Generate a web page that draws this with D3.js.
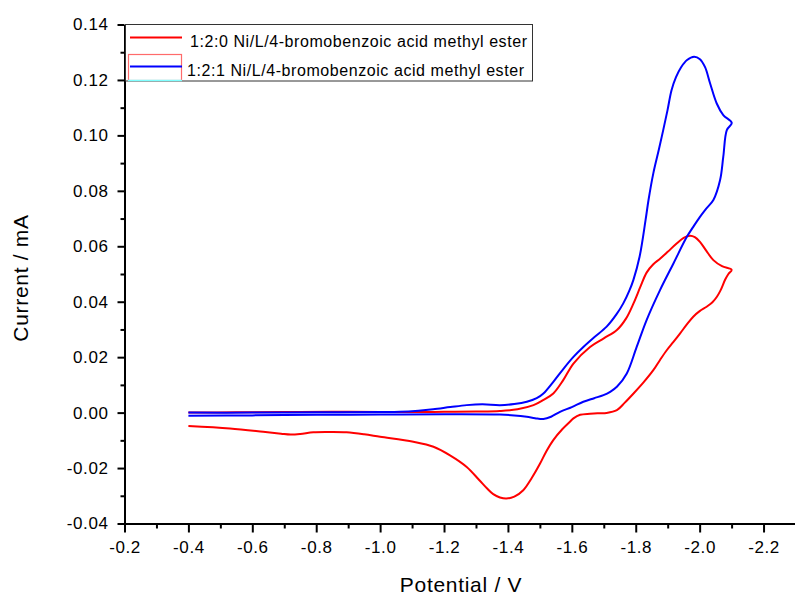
<!DOCTYPE html>
<html>
<head>
<meta charset="utf-8">
<script src="https://cdn.jsdelivr.net/npm/d3@7"></script>
<style>
  html, body { margin: 0; padding: 0; background: #fff; }
  svg { display: block; }
  text { font-family: "Liberation Sans", Arial, sans-serif; fill: #000; }
</style>
</head>
<body>
<svg id="chart" width="795" height="599"></svg>
<script>
// ---- Data ----
const seriesNames = [
  "1:2:0 Ni/L/4-bromobenzoic acid methyl ester",
  "1:2:1 Ni/L/4-bromobenzoic acid methyl ester"
];
const seriesColors = ["#ff0000", "#0000ff"];

// Red: 1:2:0 (forward sweep -0.4 -> -2.1 then back)
const redPotential = [
  -0.40, -0.55, -0.70, -0.85, -1.00, -1.10, -1.20, -1.30, -1.375, -1.43,
  -1.48, -1.51, -1.542, -1.573, -1.605, -1.657, -1.70, -1.741, -1.77, -1.793,
  -1.815, -1.834, -1.855, -1.876, -1.90, -1.928, -1.95, -1.97, -1.985, -2.001,
  -2.02, -2.043, -2.07, -2.10,
  -2.09, -2.08, -2.065, -2.054, -2.04, -2.022, -2.00, -1.98, -1.96, -1.939,
  -1.918, -1.897, -1.876, -1.855, -1.825, -1.793, -1.765, -1.741, -1.709, -1.68,
  -1.657, -1.626, -1.605, -1.594, -1.57, -1.542, -1.52, -1.501, -1.475, -1.448,
  -1.42, -1.395, -1.375, -1.354, -1.335, -1.31, -1.271, -1.22, -1.167, -1.104, -1.00,
  -0.95, -0.895, -0.84, -0.791, -0.75, -0.72, -0.69, -0.634, -0.53, -0.40
];
const redCurrent = [
  0.0000, 0.0001, 0.0002, 0.0003, 0.0002, 0.0002, 0.0003, 0.0004, 0.0006, 0.0012,
  0.0027, 0.0045, 0.0069, 0.0117, 0.0177, 0.0237, 0.0268, 0.0298, 0.0340, 0.0394,
  0.0455, 0.0505, 0.0535, 0.0555, 0.0580, 0.0610, 0.0630, 0.0638, 0.0633, 0.0616,
  0.0585, 0.0550, 0.0528, 0.0515,
  0.0500, 0.0480, 0.0440, 0.0418, 0.0398, 0.0382, 0.0366, 0.0346, 0.0318, 0.0286,
  0.0255, 0.0225, 0.0190, 0.0153, 0.0110, 0.0069, 0.0035, 0.0009, -0.0001, -0.0002,
  -0.0004, -0.0008, -0.0021, -0.0033, -0.0060, -0.0099, -0.0140, -0.0183, -0.0235, -0.0280,
  -0.0303, -0.0310, -0.0306, -0.0294, -0.0274, -0.0243, -0.0196, -0.0155, -0.0123, -0.0105, -0.0087,
  -0.0078, -0.0071, -0.0070, -0.0071, -0.0077, -0.0079, -0.0076, -0.0069, -0.0057, -0.0048
];

// Blue: 1:2:1
const bluePotential = [
  -0.40, -0.60, -0.80, -1.00, -1.062, -1.12, -1.166, -1.22, -1.271, -1.32,
  -1.375, -1.42, -1.459, -1.49, -1.511, -1.542, -1.575, -1.605, -1.636, -1.67,
  -1.709, -1.74, -1.761, -1.78, -1.7925, -1.812, -1.8307, -1.840, -1.855, -1.872,
  -1.886, -1.8995, -1.912, -1.926, -1.942, -1.9606, -1.9825, -2.001, -2.017, -2.0326,
  -2.0535, -2.074, -2.1005,
  -2.085, -2.074, -2.064, -2.043, -2.02, -2.001, -1.98, -1.96, -1.918, -1.876,
  -1.834, -1.803, -1.772, -1.741, -1.72, -1.699, -1.67, -1.636, -1.60, -1.563,
  -1.535, -1.511, -1.485, -1.459, -1.42, -1.375, -1.20, -1.00, -0.80, -0.60, -0.40
];
const blueCurrent = [
  0.0000, 0.0000, 0.0001, 0.0002, 0.0003, 0.0007, 0.0012, 0.0020, 0.0027, 0.0030,
  0.0027, 0.0031, 0.0039, 0.0052, 0.0069, 0.0111, 0.0160, 0.0201, 0.0237, 0.0272,
  0.0310, 0.0355, 0.0394, 0.0440, 0.0478, 0.0562, 0.0694, 0.0767, 0.0863, 0.0947,
  0.1019, 0.1091, 0.1163, 0.1210, 0.1246, 0.1272, 0.1284, 0.1275, 0.1246, 0.1188,
  0.1115, 0.1073, 0.1045,
  0.1019, 0.0923, 0.0839, 0.0767, 0.0735, 0.0706, 0.0670, 0.0634, 0.0538, 0.0442,
  0.0334, 0.0237, 0.0141, 0.0093, 0.0075, 0.0063, 0.0052, 0.0039, 0.0020, 0.0003,
  -0.0015, -0.0023, -0.0020, -0.0015, -0.0010, -0.0007, -0.0006, -0.0007, -0.0008, -0.0010, -0.0011
];

const xMajorTicks = [-0.2, -0.4, -0.6, -0.8, -1.0, -1.2, -1.4, -1.6, -1.8, -2.0, -2.2];
const xMinorTicks = [-0.3, -0.5, -0.7, -0.9, -1.1, -1.3, -1.5, -1.7, -1.9, -2.1];
const yMajorTicks = [-0.04, -0.02, 0.00, 0.02, 0.04, 0.06, 0.08, 0.10, 0.12, 0.14];
const yMinorTicks = [-0.03, -0.01, 0.01, 0.03, 0.05, 0.07, 0.09, 0.11, 0.13];
const xTitle = "Potential / V";
const yTitle = "Current / mA";

// ---- Layout ----
const svg = d3.select("#chart");
const x = d3.scaleLinear().domain([-0.2, -2.3]).range([124.5, 795.5]);
const y = d3.scaleLinear().domain([-0.04, 0.14]).range([523.5, 24.5]);

// Axes
const xAxis = d3.axisBottom(x).tickValues(xMajorTicks).tickSize(9).tickSizeOuter(0)
  .tickPadding(3).tickFormat(d => d.toFixed(1));
const xMinor = d3.axisBottom(x).tickValues(xMinorTicks).tickSize(5).tickSizeOuter(0).tickFormat("");
const yAxis = d3.axisLeft(y).tickValues(yMajorTicks).tickSize(7).tickSizeOuter(0)
  .tickPadding(9).tickFormat(d => d.toFixed(2));
const yMinor = d3.axisLeft(y).tickValues(yMinorTicks).tickSize(4).tickSizeOuter(0).tickFormat("");

function styleAxis(g) {
  g.selectAll("path.domain").attr("stroke", "#000").attr("stroke-width", 2);
  g.selectAll(".tick line").attr("stroke", "#000").attr("stroke-width", 2);
  g.selectAll(".tick text")
    .style("font-family", '"Liberation Sans", Arial, sans-serif')
    .style("font-size", "17px").style("letter-spacing", "0.6px").attr("fill", "#000");
}

const gxMinor = svg.append("g").attr("transform", `translate(0,${y(-0.04)})`).call(xMinor);
gxMinor.select("path.domain").remove();
styleAxis(gxMinor);
const gyMinor = svg.append("g").attr("transform", `translate(${x(-0.2)},0)`).call(yMinor);
gyMinor.select("path.domain").remove();
styleAxis(gyMinor);

const gx = svg.append("g").attr("transform", `translate(0,${y(-0.04)})`).call(xAxis);
styleAxis(gx);
gx.selectAll(".tick text").attr("dy", "1.05em");
const gy = svg.append("g").attr("transform", `translate(${x(-0.2)},0)`).call(yAxis);
styleAxis(gy);

// Axis titles
svg.append("text").attr("x", 461).attr("y", 592).attr("text-anchor", "middle")
  .style("font-size", "21px").style("letter-spacing", "0.7px").text(xTitle);
svg.append("text").attr("transform", "translate(28,278) rotate(-90)").attr("text-anchor", "middle")
  .style("font-size", "21px").style("letter-spacing", "0.7px").text(yTitle);

// Curves
const line = d3.line().x(d => x(d[0])).y(d => y(d[1])).curve(d3.curveCatmullRom.alpha(0.5));
const redData = d3.zip(redPotential, redCurrent);
const blueData = d3.zip(bluePotential, blueCurrent);
svg.append("path").datum(redData).attr("d", line).attr("fill", "none")
  .attr("stroke", seriesColors[0]).attr("stroke-width", 2).attr("stroke-linejoin", "round");
svg.append("path").datum(blueData).attr("d", line).attr("fill", "none")
  .attr("stroke", seriesColors[1]).attr("stroke-width", 2).attr("stroke-linejoin", "round");

// Legend
const lg = svg.append("g");
lg.append("rect").attr("x", 125.5).attr("y", 24.5).attr("width", 407).attr("height", 56.5)
  .attr("fill", "#fff").attr("stroke", "#333").attr("stroke-width", 1);
lg.append("rect").attr("x", 128.5).attr("y", 54.5).attr("width", 53).attr("height", 26)
  .attr("fill", "none").attr("stroke", "#ff6b6b").attr("stroke-width", 1.2);
lg.append("line").attr("x1", 128).attr("x2", 182).attr("y1", 80.5).attr("y2", 80.5)
  .attr("stroke", "#7fffff").attr("stroke-width", 1.5);
const rows = [{ly: 37.5, tx: 190, ty: 46.5}, {ly: 66.5, tx: 187, ty: 75.5}];
rows.forEach((r, i) => {
  lg.append("line").attr("x1", 130).attr("x2", 182).attr("y1", r.ly).attr("y2", r.ly)
    .attr("stroke", seriesColors[i]).attr("stroke-width", 2);
  lg.append("text").attr("x", r.tx).attr("y", r.ty)
    .style("font-size", "16px").attr("textLength", 337).attr("lengthAdjust", "spacing")
    .text(seriesNames[i]);
});
</script>
</body>
</html>
